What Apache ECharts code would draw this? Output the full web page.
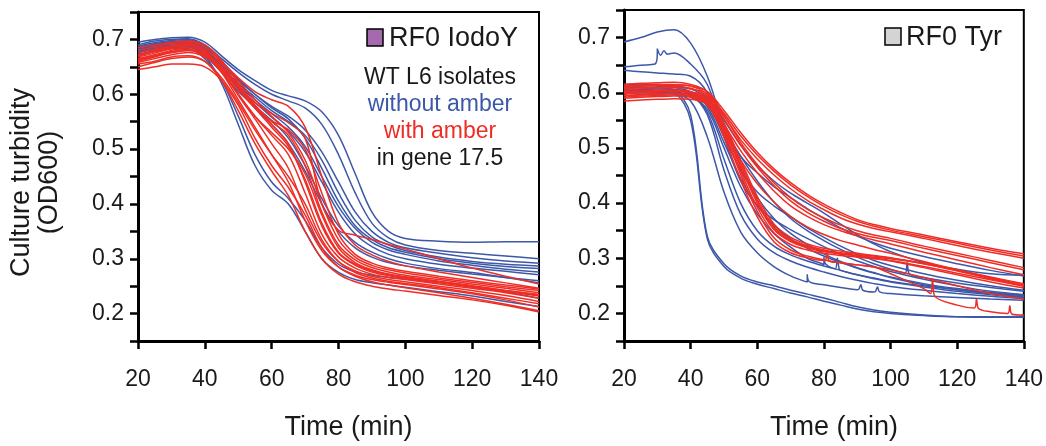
<!DOCTYPE html>
<html>
<head>
<meta charset="utf-8">
<script src="https://cdn.jsdelivr.net/npm/echarts@6/dist/echarts.min.js"></script>
<style>
  html, body { margin: 0; padding: 0; background: #fff; }
  #main { width: 1046px; height: 446px; }
</style>
</head>
<body>
<div id="main"></div>
<script>
// sample times (min), shared by every curve
var times = [20, 25, 30, 35, 40, 45, 50, 55, 60, 65, 70, 75, 80, 85, 90, 95, 100, 110, 120, 130, 140];
var yTicks = [0.2, 0.3, 0.4, 0.5, 0.6, 0.7];
var xTicks = [20, 40, 60, 80, 100, 120, 140];

// ---- left panel: RF0 IodoY ----
var iodoWithout = [
  [0.695,0.700,0.703,0.704,0.695,0.670,0.645,0.625,0.607,0.597,0.588,0.568,0.525,0.455,0.385,0.350,0.337,0.332,0.330,0.331,0.331],
  [0.690,0.697,0.700,0.701,0.690,0.665,0.640,0.618,0.600,0.588,0.575,0.545,0.490,0.420,0.365,0.338,0.325,0.315,0.310,0.305,0.300],
  [0.685,0.690,0.695,0.697,0.685,0.655,0.625,0.600,0.578,0.560,0.535,0.495,0.440,0.385,0.350,0.330,0.320,0.310,0.302,0.296,0.292],
  [0.680,0.688,0.692,0.693,0.680,0.650,0.620,0.595,0.570,0.550,0.525,0.480,0.420,0.370,0.340,0.325,0.315,0.303,0.295,0.290,0.287],
  [0.688,0.694,0.698,0.700,0.688,0.660,0.628,0.600,0.575,0.555,0.520,0.465,0.405,0.360,0.335,0.320,0.312,0.300,0.292,0.286,0.282],
  [0.682,0.690,0.694,0.695,0.682,0.652,0.618,0.590,0.565,0.540,0.505,0.450,0.395,0.355,0.330,0.316,0.308,0.296,0.288,0.281,0.276],
  [0.678,0.685,0.690,0.690,0.676,0.645,0.612,0.585,0.558,0.532,0.495,0.440,0.385,0.345,0.322,0.308,0.300,0.290,0.283,0.277,0.271],
  [0.672,0.680,0.685,0.686,0.670,0.640,0.605,0.578,0.552,0.520,0.470,0.410,0.360,0.330,0.312,0.300,0.292,0.282,0.275,0.266,0.256],
  [0.676,0.683,0.688,0.688,0.670,0.620,0.545,0.470,0.425,0.400,0.350,0.300,0.275,0.262,0.256,0.252,0.248,0.240,0.232,0.222,0.213],
  [0.670,0.678,0.683,0.683,0.665,0.625,0.560,0.490,0.440,0.410,0.370,0.320,0.290,0.276,0.270,0.266,0.263,0.258,0.250,0.240,0.228],
  [0.685,0.692,0.696,0.697,0.683,0.650,0.610,0.575,0.545,0.510,0.460,0.400,0.350,0.320,0.303,0.293,0.287,0.279,0.272,0.266,0.260]
];
var iodoWith = [
  [0.645,0.650,0.655,0.655,0.650,0.625,0.580,0.520,0.470,0.430,0.380,0.320,0.285,0.268,0.258,0.252,0.247,0.238,0.228,0.217,0.205],
  [0.655,0.660,0.668,0.670,0.660,0.625,0.570,0.510,0.460,0.415,0.350,0.300,0.272,0.258,0.250,0.245,0.241,0.233,0.225,0.215,0.203],
  [0.665,0.672,0.680,0.685,0.675,0.640,0.590,0.540,0.490,0.440,0.370,0.315,0.285,0.270,0.262,0.257,0.253,0.245,0.236,0.225,0.212],
  [0.670,0.678,0.685,0.690,0.678,0.645,0.598,0.555,0.510,0.465,0.390,0.330,0.295,0.278,0.268,0.262,0.258,0.250,0.242,0.233,0.222],
  [0.660,0.668,0.676,0.680,0.670,0.640,0.600,0.560,0.525,0.490,0.420,0.345,0.303,0.283,0.272,0.266,0.262,0.254,0.246,0.238,0.228],
  [0.675,0.682,0.688,0.692,0.682,0.655,0.615,0.575,0.540,0.505,0.445,0.365,0.312,0.290,0.278,0.271,0.266,0.258,0.250,0.242,0.235],
  [0.668,0.675,0.683,0.686,0.676,0.650,0.612,0.580,0.550,0.525,0.470,0.385,0.325,0.298,0.284,0.276,0.270,0.262,0.254,0.246,0.238],
  [0.680,0.686,0.692,0.695,0.686,0.660,0.625,0.590,0.560,0.530,0.480,0.400,0.335,0.303,0.288,0.280,0.274,0.265,0.257,0.249,0.242],
  [0.658,0.665,0.672,0.676,0.668,0.645,0.608,0.575,0.552,0.535,0.500,0.420,0.345,0.308,0.292,0.283,0.277,0.268,0.260,0.252,0.245],
  [0.672,0.680,0.686,0.690,0.680,0.658,0.630,0.605,0.590,0.578,0.540,0.450,0.365,0.325,0.307,0.295,0.287,0.276,0.266,0.256,0.246],
  [0.662,0.670,0.678,0.682,0.672,0.648,0.615,0.585,0.565,0.548,0.520,0.400,0.352,0.343,0.335,0.326,0.318,0.300,0.283,0.268,0.254],
  [0.650,0.658,0.665,0.668,0.660,0.630,0.585,0.535,0.490,0.450,0.400,0.335,0.295,0.275,0.265,0.259,0.255,0.247,0.238,0.228,0.218],
  [0.685,0.690,0.695,0.697,0.690,0.662,0.620,0.580,0.545,0.510,0.440,0.360,0.310,0.288,0.276,0.269,0.264,0.256,0.248,0.240,0.232],
  [0.664,0.670,0.676,0.680,0.672,0.642,0.600,0.560,0.530,0.500,0.455,0.380,0.320,0.293,0.280,0.272,0.267,0.259,0.251,0.242,0.234]
];

// ---- right panel: RF0 Tyr ----
var tyrWithout = [
  [0.692,0.700,0.710,0.714,0.690,0.630,0.540,0.485,0.455,0.430,0.410,0.390,0.372,0.355,0.340,0.328,0.318,0.303,0.290,0.278,0.268],
  [0.647,0.650,0.672,0.672,0.652,0.615,0.530,0.460,0.420,0.395,0.375,0.355,0.338,0.322,0.308,0.296,0.287,0.272,0.260,0.250,0.242],
  [0.641,0.638,0.636,0.634,0.630,0.600,0.520,0.440,0.395,0.370,0.352,0.336,0.321,0.307,0.295,0.285,0.276,0.262,0.250,0.240,0.234],
  [0.605,0.605,0.604,0.602,0.560,0.340,0.290,0.268,0.257,0.250,0.242,0.235,0.228,0.220,0.212,0.206,0.202,0.197,0.194,0.193,0.193],
  [0.600,0.600,0.600,0.598,0.550,0.335,0.285,0.264,0.253,0.245,0.237,0.230,0.222,0.215,0.208,0.203,0.200,0.196,0.194,0.194,0.195],
  [0.600,0.601,0.600,0.598,0.585,0.520,0.420,0.348,0.310,0.285,0.268,0.257,0.252,0.247,0.243,0.239,0.236,0.232,0.229,0.226,0.224],
  [0.610,0.610,0.608,0.606,0.598,0.560,0.460,0.380,0.335,0.310,0.295,0.284,0.275,0.267,0.260,0.254,0.249,0.242,0.236,0.231,0.227],
  [0.605,0.606,0.605,0.604,0.597,0.565,0.480,0.400,0.350,0.322,0.306,0.295,0.286,0.278,0.270,0.264,0.258,0.250,0.243,0.237,0.232],
  [0.598,0.600,0.600,0.598,0.592,0.570,0.500,0.430,0.380,0.345,0.320,0.300,0.288,0.278,0.270,0.263,0.257,0.248,0.240,0.234,0.229],
  [0.612,0.613,0.612,0.610,0.602,0.580,0.520,0.460,0.410,0.372,0.345,0.325,0.308,0.294,0.283,0.274,0.266,0.254,0.245,0.238,0.234],
  [0.603,0.604,0.603,0.601,0.596,0.578,0.535,0.485,0.440,0.402,0.372,0.350,0.332,0.316,0.302,0.290,0.280,0.265,0.255,0.247,0.240],
  [0.615,0.616,0.615,0.613,0.607,0.590,0.550,0.505,0.468,0.440,0.418,0.400,0.382,0.362,0.343,0.326,0.312,0.292,0.280,0.272,0.269],
  [0.608,0.609,0.608,0.606,0.600,0.575,0.510,0.445,0.395,0.360,0.335,0.318,0.304,0.292,0.282,0.273,0.265,0.252,0.243,0.236,0.230]
];
var tyrWith = [
  [0.610,0.612,0.613,0.614,0.612,0.602,0.568,0.528,0.492,0.462,0.437,0.416,0.398,0.383,0.370,0.361,0.354,0.342,0.330,0.318,0.308],
  [0.605,0.607,0.608,0.609,0.607,0.598,0.563,0.522,0.487,0.458,0.433,0.412,0.394,0.379,0.367,0.358,0.351,0.339,0.327,0.315,0.304],
  [0.598,0.600,0.602,0.603,0.601,0.594,0.558,0.515,0.480,0.451,0.426,0.405,0.388,0.373,0.362,0.354,0.348,0.336,0.323,0.311,0.300],
  [0.612,0.614,0.615,0.615,0.612,0.597,0.553,0.505,0.465,0.432,0.404,0.383,0.367,0.354,0.345,0.338,0.332,0.318,0.305,0.292,0.279],
  [0.600,0.602,0.603,0.604,0.601,0.588,0.543,0.495,0.455,0.422,0.395,0.376,0.361,0.350,0.341,0.333,0.326,0.311,0.297,0.283,0.270],
  [0.595,0.597,0.598,0.599,0.597,0.583,0.535,0.468,0.400,0.352,0.330,0.319,0.312,0.308,0.305,0.302,0.299,0.290,0.278,0.265,0.252],
  [0.602,0.603,0.604,0.605,0.602,0.588,0.540,0.473,0.406,0.357,0.334,0.323,0.315,0.310,0.307,0.304,0.300,0.291,0.279,0.266,0.254],
  [0.608,0.609,0.610,0.611,0.608,0.593,0.545,0.478,0.412,0.362,0.338,0.326,0.318,0.313,0.309,0.305,0.301,0.290,0.277,0.263,0.250],
  [0.590,0.592,0.593,0.594,0.592,0.578,0.525,0.458,0.392,0.346,0.325,0.315,0.309,0.305,0.302,0.299,0.295,0.283,0.270,0.257,0.246],
  [0.600,0.601,0.602,0.603,0.600,0.585,0.530,0.452,0.385,0.337,0.315,0.304,0.297,0.292,0.288,0.284,0.279,0.265,0.250,0.236,0.226],
  [0.595,0.596,0.597,0.598,0.595,0.581,0.520,0.442,0.375,0.330,0.310,0.301,0.296,0.292,0.288,0.284,0.272,0.245,0.215,0.203,0.197],
  [0.585,0.587,0.588,0.589,0.588,0.578,0.532,0.478,0.435,0.402,0.376,0.357,0.343,0.332,0.324,0.316,0.309,0.294,0.279,0.264,0.250],
  [0.615,0.617,0.618,0.619,0.615,0.602,0.560,0.510,0.470,0.437,0.410,0.389,0.373,0.360,0.350,0.342,0.336,0.322,0.309,0.296,0.283],
  [0.592,0.594,0.595,0.596,0.594,0.583,0.533,0.465,0.402,0.354,0.332,0.321,0.313,0.308,0.304,0.300,0.296,0.285,0.273,0.261,0.249]
];

// single-reading spikes in the Tyr traces, [time, OD] (curve index -> points)
var tyrWithoutSpikes = {
  1: [[29.3,0.652],[30,0.680],[31,0.668],[32,0.676],[33,0.670]],
  5: [[74.3,0.258],[75,0.271],[75.7,0.257],[90.5,0.244],[91.1,0.252],[91.7,0.242],[95.5,0.240],[96.1,0.248],[96.7,0.239]],
  8: [[79.4,0.290],[80,0.302],[80.6,0.289],[83.4,0.281],[84,0.300],[84.6,0.280]],
  10: [[104.4,0.273],[105,0.292],[105.6,0.272]]
};
var tyrWithSpikes = {
  10: [[80.4,0.296],[81,0.307],[81.6,0.295],[112,0.236],[112.6,0.262],[113.2,0.232],[125.2,0.210],[125.8,0.226],[126.4,0.209],[135.2,0.200],[135.8,0.214],[136.4,0.199]]
};

var BLUE = '#3d58a8';
var RED = '#ee2d26';
var FONT = 'Liberation Sans';

function curve(vals, extra) {
  var pts = times.map(function (t, i) { return [t, vals[i]]; });
  if (extra) {
    pts = pts.concat(extra);
    pts.sort(function (a, b) { return a[0] - b[0]; });
  }
  return pts;
}

function makeSeries(list, color, idx, spikes) {
  return list.map(function (vals, i) {
    return {
      type: 'line',
      xAxisIndex: idx,
      yAxisIndex: idx,
      data: curve(vals, spikes ? spikes[i] : null),
      showSymbol: false,
      smooth: 0.35,
      silent: true,
      lineStyle: { color: color, width: 1.5 },
      animation: false
    };
  });
}

function yLabel(v) {
  var k = Math.round(v * 100);
  return yTicks.indexOf(k / 100) >= 0 ? (k / 100).toFixed(1) : '';
}

function xAxisCfg(idx, name) {
  return {
    gridIndex: idx,
    type: 'value',
    min: 20, max: 140, interval: 20,
    axisLine: { onZero: false, lineStyle: { color: '#000', width: 3 } },
    axisTick: { length: 8, lineStyle: { color: '#000', width: 2.5 } },
    axisLabel: {
      fontFamily: FONT, fontSize: 23, color: '#1a1a1a', margin: 27,
      formatter: function (v) { return xTicks.indexOf(v) >= 0 ? String(v) : ''; }
    },
    splitLine: { show: false },
    name: name,
    nameLocation: 'middle',
    nameGap: 73,
    nameTextStyle: { fontFamily: FONT, fontSize: 27, color: '#1a1a1a', padding: [0, 0, 0, 20] }
  };
}

function yAxisCfg(idx, name) {
  var cfg = {
    gridIndex: idx,
    type: 'value',
    min: 0.15, max: 0.75, interval: 0.05,
    axisLine: { onZero: false, lineStyle: { color: '#000', width: 3 } },
    axisTick: { length: 8, lineStyle: { color: '#000', width: 2.5 } },
    axisLabel: { fontFamily: FONT, fontSize: 23, color: '#1a1a1a', margin: 14, formatter: yLabel },
    splitLine: { show: false }
  };
  if (name) {
    cfg.name = name;
    cfg.nameLocation = 'middle';
    cfg.nameRotate = 90;
    cfg.nameGap = 74;
    cfg.nameTextStyle = { fontFamily: FONT, fontSize: 27, color: '#1a1a1a', lineHeight: 28, padding: [0, 12, 0, 0] };
  }
  return cfg;
}

function label(text, x, y, size, color, align) {
  return {
    type: 'text',
    style: {
      text: text, x: x, y: y, font: size + 'px "' + FONT + '"', fill: color,
      textAlign: align, textVerticalAlign: 'middle'
    }
  };
}

var chart = echarts.init(document.getElementById('main'), null, { renderer: 'canvas' });

var option = {
  backgroundColor: '#fff',
  animation: false,
  grid: [
    { left: 138, right: 507, top: 12, bottom: 101, show: true, borderColor: '#000', borderWidth: 2 },
    { left: 624, right: 20, top: 10, bottom: 103, show: true, borderColor: '#000', borderWidth: 2 }
  ],
  xAxis: [xAxisCfg(0, 'Time (min)'), xAxisCfg(1, 'Time (min)')],
  yAxis: [yAxisCfg(0, 'Culture turbidity\n(OD600)'), yAxisCfg(1, null)],
  graphic: [
    { type: 'rect', shape: { x: 367, y: 29, width: 16, height: 17 },
      style: { fill: '#a56aae', stroke: '#000', lineWidth: 1.5 } },
    label('RF0 IodoY', 389, 39, 27, '#1a1a1a', 'left'),
    label('WT L6 isolates', 440, 78, 23, '#1a1a1a', 'center'),
    label('without amber', 440, 105, 23, BLUE, 'center'),
    label('with amber', 440, 132, 23, RED, 'center'),
    label('in gene 17.5', 440, 159, 23, '#1a1a1a', 'center'),
    { type: 'rect', shape: { x: 885, y: 28, width: 16, height: 17 },
      style: { fill: '#d4d4d4', stroke: '#000', lineWidth: 1.5 } },
    label('RF0 Tyr', 906, 38, 27, '#1a1a1a', 'left')
  ],
  series: [].concat(
    makeSeries(iodoWithout, BLUE, 0),
    makeSeries(iodoWith, RED, 0),
    makeSeries(tyrWithout, BLUE, 1, tyrWithoutSpikes),
    makeSeries(tyrWith, RED, 1, tyrWithSpikes)
  )
};

chart.setOption(option);
window.addEventListener('resize', chart.resize);
</script>
</body>
</html>
